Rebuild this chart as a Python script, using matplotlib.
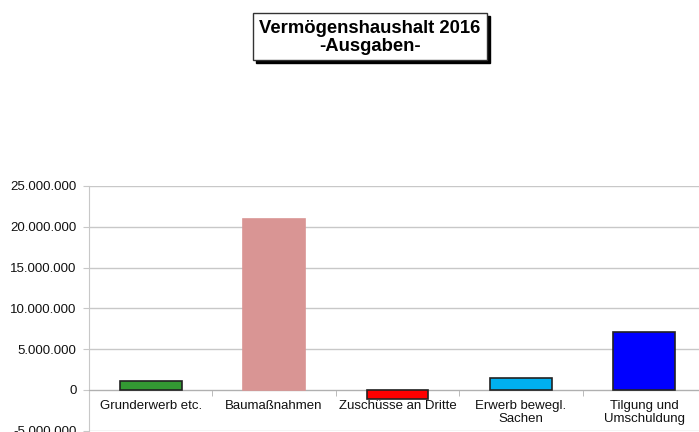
import matplotlib.pyplot as plt
from matplotlib.patches import Rectangle
from matplotlib.ticker import FuncFormatter
import numpy as np

plt.rcParams['font.family'] = ['Liberation Sans', 'DejaVu Sans']

kategorien = ['Grunderwerb etc.', 'Baumaßnahmen', 'Zuschüsse an Dritte',
              'Erwerb bewegl.\nSachen', 'Tilgung und\nUmschuldung']
werte = [1100000, 20900000, -1150000, 1470000, 7150000]
farben = ['#339933', '#D99594', '#FF0000', '#00B0F0', '#0000FF']
kanten = ['#222222', '#D99594', '#222222', '#222222', '#222222']
y_ticks = [-5000000, 0, 5000000, 10000000, 15000000, 20000000, 25000000]

W, H = 699, 432
fig = plt.figure(figsize=(W / 100, H / 100), dpi=100)

# Achsen ragen rechts und unten etwas aus dem Bild (Ausschnitt)
ax = fig.add_axes([89 / W, (H - 430.8) / H, 617 / W, 244.8 / H])
x = np.arange(len(kategorien))
ax.bar(x, werte, width=0.5, color=farben, edgecolor=kanten, linewidth=1.2, zorder=3)

ax.set_xlim(-0.5, len(kategorien) - 0.5)
ax.set_ylim(-5000000, 25000000)
ax.set_yticks(y_ticks)
ax.yaxis.set_major_formatter(FuncFormatter(lambda v, p: f'{v:,.0f}'.replace(',', '.')))
ax.grid(axis='y', color='#c8c8c8', linewidth=1.0, zorder=0)
ax.tick_params(axis='y', length=4, color='#c8c8c8', labelsize=9.5, labelcolor='#111111', pad=5)

ax.spines['bottom'].set_position(('data', 0))
ax.spines['bottom'].set_color('#b0b0b0')
ax.spines['left'].set_color('#c8c8c8')
ax.spines['top'].set_visible(False)
ax.spines['right'].set_visible(False)
ax.set_xticks(x)
ax.set_xticklabels(kategorien, fontsize=9.5, color='#111111', linespacing=1.1)
ax.tick_params(axis='x', length=0, pad=7)
ax.set_xticks(np.arange(0.5, len(kategorien) - 0.5), minor=True)
ax.tick_params(axis='x', which='minor', length=4, color='#b0b0b0', direction='out')

# Titel mit Rahmen und Schatten
bx, by, bw, bh = 253, 13, 234, 47
fig.add_artist(Rectangle(((bx + 3) / W, (H - by - bh - 3) / H), bw / W, bh / H,
                         transform=fig.transFigure, facecolor='black', edgecolor='black'))
fig.add_artist(Rectangle((bx / W, (H - by - bh) / H), bw / W, bh / H,
                         transform=fig.transFigure, facecolor='white', edgecolor='#333333',
                         linewidth=1.0))
fig.text((bx + bw / 2) / W, (H - by - bh / 2 - 1) / H, 'Vermögenshaushalt 2016\n-Ausgaben-',
         ha='center', va='center', fontsize=13.3, fontweight='bold', linespacing=1.15)

fig.savefig('out.png', dpi=100)
